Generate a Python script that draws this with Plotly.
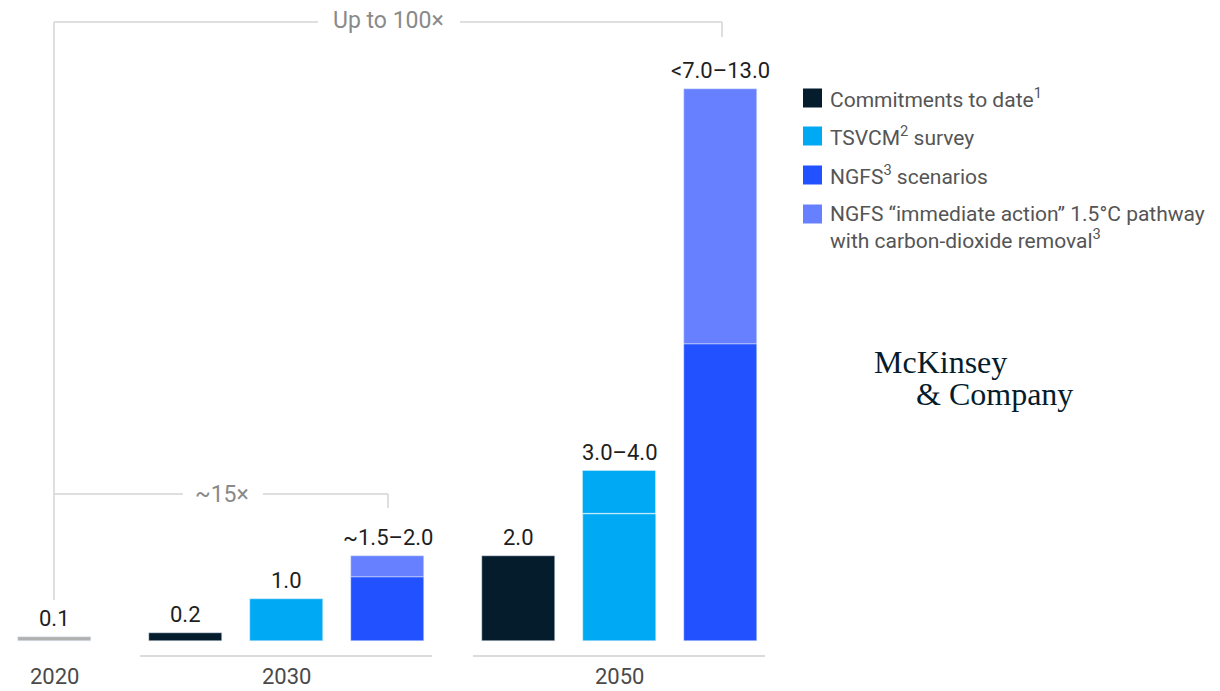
import plotly.graph_objects as go

# ---- data ----
years = ["2020", "2030", "2050"]
baseline_2020 = [0.1]
commitments = [0.2, 2.0]            # 2030, 2050
tsvcm_low = [1.0, 3.0]
tsvcm_high = [1.0, 4.0]
ngfs = [1.5, 7.0]
ngfs_high = [2.0, 13.0]
value_labels_2020 = ["0.1"]
value_labels_2030 = ["0.2", "1.0", "~1.5–2.0"]
value_labels_2050 = ["2.0", "3.0–4.0", "<7.0–13.0"]
legend_names = ["Commitments to date<sup>1</sup>", "TSVCM<sup>2</sup> survey",
                "NGFS<sup>3</sup> scenarios",
                "NGFS “immediate action” 1.5°C pathway<br>with carbon-dioxide removal<sup>3</sup>"]

# ---- styling / layout ----
W, H = 1220, 691
BASE_PX = 641          # pixel row of value 0
PX_PER_UNIT = 42.5
NAVY, SKY, BLUE, LIGHT, GRAY = "#051c2c", "#00a9f4", "#2251ff", "#6680ff", "#b0b0b0"
FONT = "Roboto"
BW = 73
pos_2020 = 54
pos_2030 = [185, 286, 387.5]
pos_2050 = [518, 619.5, 720.5]


def Y(py):
    return (BASE_PX - py) / PX_PER_UNIT


fig = go.Figure()
fig.add_bar(x=[pos_2020], y=baseline_2020, width=BW, marker_color=GRAY, showlegend=False)
fig.add_bar(x=[pos_2030[0], pos_2050[0]], y=commitments, width=BW, marker_color=NAVY, showlegend=False)
fig.add_bar(x=[pos_2030[1], pos_2050[1]], y=tsvcm_low, width=BW, marker_color=SKY, showlegend=False)
fig.add_bar(x=[pos_2050[1]], y=[tsvcm_high[1] - tsvcm_low[1]], base=[tsvcm_low[1]], width=BW,
            marker_color=SKY, marker_line=dict(color="rgba(255,255,255,0.35)", width=1), showlegend=False)
fig.add_bar(x=[pos_2030[2], pos_2050[2]], y=ngfs, width=BW, marker_color=BLUE, showlegend=False)
fig.add_bar(x=[pos_2030[2], pos_2050[2]], y=[h - l for h, l in zip(ngfs_high, ngfs)], base=ngfs,
            width=BW, marker_color=LIGHT, showlegend=False)

ann = []
# value labels
tops = [(pos_2020, baseline_2020[0], value_labels_2020[0]),
        (pos_2030[0], commitments[0], value_labels_2030[0]),
        (pos_2030[1], tsvcm_high[0], value_labels_2030[1]),
        (pos_2030[2], ngfs_high[0], value_labels_2030[2]),
        (pos_2050[0], commitments[1], value_labels_2050[0]),
        (pos_2050[1], tsvcm_high[1], value_labels_2050[1]),
        (pos_2050[2], ngfs_high[1], value_labels_2050[2])]
for x, v, t in tops:
    ann.append(dict(x=x, y=v, xref="x", yref="y", text=t, showarrow=False, yanchor="bottom",
                    yshift=4, font=dict(family=FONT, size=22, color="#1e1e1e")))

# category labels
for x, t in [(pos_2020, years[0]), ((pos_2030[0] + pos_2030[2]) / 2, years[1]),
             ((pos_2050[0] + pos_2050[2]) / 2, years[2])]:
    ann.append(dict(x=x, y=Y(690), xref="x", yref="y", text=t, showarrow=False, yanchor="bottom",
                    borderpad=0, font=dict(family=FONT, size=22, color="#4a4a4a")))

# brackets
LC = "#d4d4d4"
shapes = []


def line(x0, y0, x1, y1, color=LC, w=1.5):
    shapes.append(dict(type="line", xref="x", yref="y", x0=x0, y0=Y(y0), x1=x1, y1=Y(y1),
                       line=dict(color=color, width=w)))


line(54, 22, 54, 600)
line(54, 22, 318, 22)
line(460, 22, 722, 22)
line(722, 22, 722, 37)
line(54, 494, 183, 494)
line(263, 494, 388, 494)
line(388, 494, 388, 508)
# group baselines
line(140, 656, 432, 656, color="#cfcfcf")
line(473, 656, 765, 656, color="#cfcfcf")
# split line in TSVCM 2050 bar
shapes.append(dict(type="line", xref="x", yref="y", x0=pos_2050[1] - BW / 2, x1=pos_2050[1] + BW / 2,
                   y0=tsvcm_low[1], y1=tsvcm_low[1], line=dict(color="rgba(255,255,255,0.35)", width=1.5)))

ann.append(dict(x=388, y=Y(20), xref="x", yref="y", text="Up to 100×", showarrow=False,
                font=dict(family=FONT, size=23, color="#8a8a8a")))
ann.append(dict(x=222, y=Y(494), xref="x", yref="y", text="~15×", showarrow=False,
                font=dict(family=FONT, size=23, color="#8a8a8a")))

# legend (manual)
leg_colors = [NAVY, SKY, BLUE, LIGHT]
leg_rows = [98, 136, 175, 214]
for i, (c, r, name) in enumerate(zip(leg_colors, leg_rows, legend_names)):
    shapes.append(dict(type="rect", xref="x", yref="y", x0=803, x1=822, y0=Y(r - 9.5), y1=Y(r + 9.5),
                       fillcolor=c, line=dict(width=0)))
    ty = r if i < 3 else r + 13
    ann.append(dict(x=828, y=Y(ty), xref="x", yref="y", text=name, showarrow=False,
                    xanchor="left", yanchor="middle", align="left",
                    font=dict(family=FONT, size=21, color="#555555")))

# logo
ann.append(dict(x=872, y=Y(362), xref="x", yref="y", text="McKinsey", showarrow=False, xanchor="left",
                font=dict(family="Liberation Serif", size=32, color=NAVY)))
ann.append(dict(x=914, y=Y(394), xref="x", yref="y", text="&amp; Company", showarrow=False, xanchor="left",
                font=dict(family="Liberation Serif", size=32, color=NAVY)))

fig.update_layout(
    width=W, height=H, margin=dict(l=0, r=0, t=0, b=0),
    paper_bgcolor="white", plot_bgcolor="white",
    barmode="overlay", bargap=0,
    xaxis=dict(range=[0, W], visible=False, fixedrange=True),
    yaxis=dict(range=[Y(H), Y(0)], visible=False, fixedrange=True),
    annotations=ann, shapes=shapes, showlegend=False,
)
fig.write_html("out.html")
